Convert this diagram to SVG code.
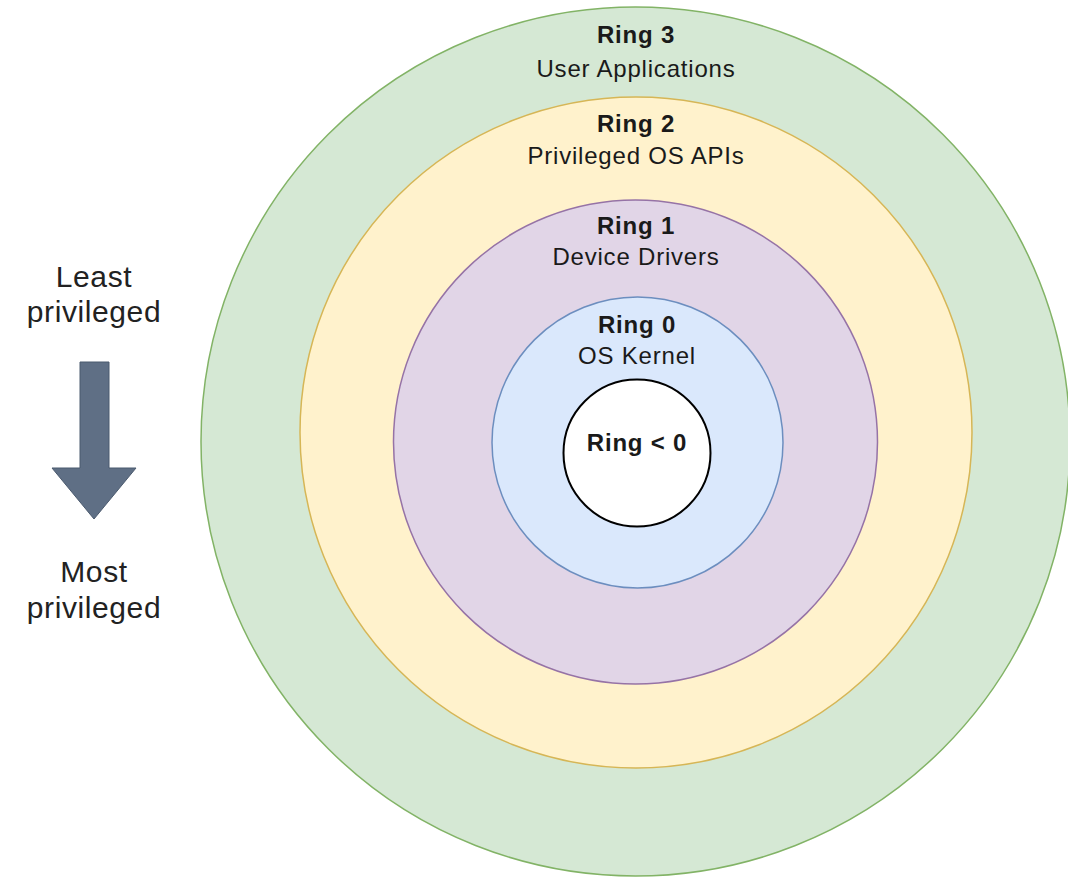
<svg xmlns="http://www.w3.org/2000/svg" width="1068" height="877" viewBox="0 0 1068 877">
  <style>
    .ring { stroke-width: 1.5; }
    .title { font-family: "Liberation Sans", Arial, sans-serif; font-size: 24px; font-weight: bold; fill: #1a1a1a; text-anchor: middle; letter-spacing: 0.8px; }
    .sub { font-family: "Liberation Sans", Arial, sans-serif; font-size: 24px; fill: #1a1a1a; text-anchor: middle; letter-spacing: 0.8px; }
    .side { font-family: "Liberation Sans", Arial, sans-serif; font-size: 30px; fill: #222222; text-anchor: middle; letter-spacing: 0.6px; }
  </style>
  <rect width="1068" height="877" fill="#ffffff"/>

  <!-- privilege rings, outermost first -->
  <g id="ring3">
    <ellipse class="ring" cx="635.5" cy="441.5" rx="434.5" ry="434.5" fill="#d5e8d4" stroke="#82b366"/>
    <text class="title" x="636" y="43">Ring 3</text>
    <text class="sub" x="636" y="77">User Applications</text>
  </g>
  <g id="ring2">
    <ellipse class="ring" cx="636" cy="432.5" rx="336" ry="335.5" fill="#fff2cc" stroke="#d6b656"/>
    <text class="title" x="636" y="132">Ring 2</text>
    <text class="sub" x="636" y="164">Privileged OS APIs</text>
  </g>
  <g id="ring1">
    <circle class="ring" cx="635.5" cy="442" r="242" fill="#e1d5e7" stroke="#9673a6"/>
    <text class="title" x="636" y="234">Ring 1</text>
    <text class="sub" x="636" y="265">Device Drivers</text>
  </g>
  <g id="ring0">
    <circle class="ring" cx="637.5" cy="442.5" r="145.5" fill="#dae8fc" stroke="#6c8ebf"/>
    <text class="title" x="637" y="333">Ring 0</text>
    <text class="sub" x="637" y="364">OS Kernel</text>
  </g>
  <g id="ring-below-0">
    <circle cx="637" cy="453" r="73.5" fill="#ffffff" stroke="#000000" stroke-width="2"/>
    <text class="title" x="637" y="451">Ring &lt; 0</text>
  </g>

  <!-- privilege direction legend -->
  <g id="least-label">
    <text class="side" x="94" y="287">Least</text>
    <text class="side" x="94" y="322">privileged</text>
  </g>
  <g id="connectors">
    <path id="privilege-arrow" d="M80 362 H109 V468 H136 L94 519 L52 468 H80 Z" fill="#5f6f85" stroke="#4b5a6e" stroke-width="1"/>
  </g>
  <g id="most-label">
    <text class="side" x="94" y="582">Most</text>
    <text class="side" x="94" y="618">privileged</text>
  </g>
</svg>
